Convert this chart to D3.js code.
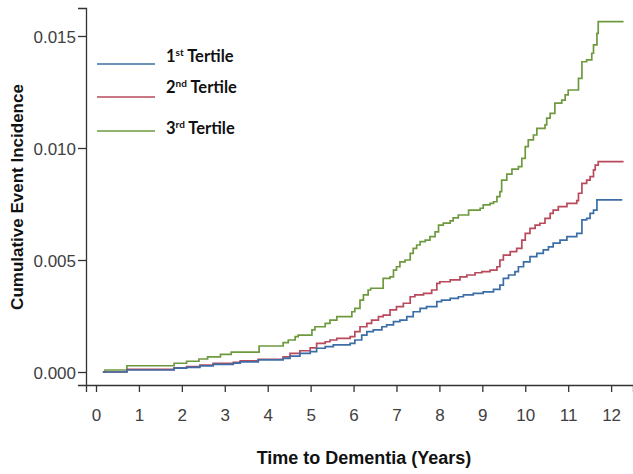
<!DOCTYPE html>
<html>
<head>
<meta charset="utf-8">
<script src="https://cdn.jsdelivr.net/npm/d3@7"></script>
<style>
  html, body { margin: 0; padding: 0; background: #fff; }
  svg { display: block; }
</style>
</head>
<body>
<svg id="chart" width="633" height="474"></svg>
<script>
// ---- data ----
const xTicks = [0,1,2,3,4,5,6,7,8,9,10,11,12];
const yTicks = [0, 0.005, 0.010, 0.015];
const seriesNames = ["1st Tertile", "2nd Tertile", "3rd Tertile"];

const tertile1Times = [0.16,0.72,1.82,2.11,2.42,2.73,3.2,3.36,3.78,4.36,4.52,4.75,4.99,5.14,5.34,5.53,5.92,6.03,6.19,6.31,6.46,6.66,6.77,6.93,7.08,7.24,7.39,7.55,7.7,7.94,8.05,8.25,8.44,8.56,8.79,9.02,9.26,9.41,9.49,9.61,9.76,9.84,9.96,10.11,10.27,10.42,10.54,10.65,10.81,10.97,11.2,11.32,11.43,11.51,11.59,11.67,12.26];
const tertile1Values = [0,0.00009,0.00017,0.00021,0.00027,0.00034,0.0004,0.00045,0.00054,0.00061,0.00071,0.00083,0.00091,0.00106,0.00113,0.00121,0.00128,0.00143,0.00165,0.0018,0.00188,0.00202,0.0021,0.00225,0.00232,0.00247,0.00269,0.00284,0.00292,0.00314,0.00321,0.00329,0.00336,0.00344,0.00351,0.00358,0.00369,0.00388,0.00418,0.00433,0.00448,0.0047,0.00492,0.00515,0.0053,0.00545,0.00559,0.00575,0.00589,0.00604,0.00619,0.00679,0.00686,0.00708,0.00723,0.00768,0.00768];

const tertile2Times = [0.16,0.72,1.82,2.11,2.42,2.73,3.2,3.36,3.78,4.36,4.52,4.75,4.99,5.14,5.34,5.45,5.61,5.92,6.03,6.15,6.31,6.42,6.58,6.69,6.85,7.0,7.16,7.32,7.43,7.63,7.82,7.94,8.01,8.25,8.48,8.64,8.83,8.99,9.18,9.34,9.41,9.49,9.65,9.8,9.92,10.0,10.11,10.23,10.34,10.46,10.58,10.65,10.77,10.97,11.2,11.24,11.32,11.43,11.51,11.59,11.63,11.7,12.29];
const tertile2Values = [0,0.00012,0.00019,0.00024,0.00031,0.00039,0.00043,0.0005,0.00057,0.00068,0.00083,0.00095,0.00108,0.00128,0.00135,0.00143,0.0015,0.00158,0.0018,0.00202,0.00217,0.00232,0.00247,0.00254,0.00277,0.00292,0.00307,0.00336,0.00344,0.00351,0.00366,0.00396,0.00403,0.00411,0.00425,0.00433,0.00443,0.00448,0.00455,0.0047,0.005,0.00522,0.00537,0.00552,0.00589,0.00619,0.00641,0.00656,0.00664,0.00686,0.00708,0.00723,0.00738,0.00753,0.00765,0.00798,0.00842,0.00857,0.00872,0.00902,0.00924,0.00939,0.00939];

const tertile3Times = [0.16,0.21,0.72,1.82,2.11,2.4,2.6,2.9,3.15,3.8,4.36,4.48,4.64,4.71,5.03,5.1,5.34,5.45,5.61,5.96,6.03,6.15,6.23,6.34,6.4,6.69,6.85,6.93,7.0,7.08,7.2,7.32,7.39,7.47,7.55,7.67,7.78,7.9,7.98,8.09,8.25,8.32,8.44,8.68,8.95,9.02,9.18,9.26,9.34,9.41,9.45,9.57,9.69,9.84,9.92,10.0,10.07,10.19,10.27,10.46,10.5,10.58,10.69,10.85,10.93,11.0,11.24,11.32,11.43,11.55,11.59,11.67,11.7,12.29];
const tertile3Values = [0,0.00009,0.00028,0.00039,0.00048,0.00058,0.00068,0.00079,0.00089,0.00116,0.00131,0.00143,0.00158,0.00165,0.00188,0.00202,0.00217,0.00232,0.00247,0.00269,0.00284,0.00321,0.00344,0.00366,0.00374,0.00418,0.00425,0.00455,0.0047,0.00492,0.005,0.0053,0.00552,0.00567,0.00582,0.00589,0.00604,0.00626,0.00656,0.00665,0.00675,0.00688,0.00701,0.00723,0.00731,0.00746,0.00753,0.0076,0.00783,0.00805,0.00857,0.00883,0.00906,0.00917,0.00954,0.01006,0.01036,0.01058,0.01088,0.01103,0.01133,0.01155,0.012,0.01214,0.01237,0.01259,0.01311,0.01385,0.01393,0.01423,0.0146,0.01512,0.01564,0.01564];

const colors = ["#3b6ea6", "#b84a5c", "#6e9a3f"];

// ---- chart ----
const svg = d3.select("#chart");
const x = d3.scaleLinear().domain([-0.233, 12.51]).range([86, 633]);
const y = d3.scaleLinear().domain([-0.00058, 0.01625]).range([385, 8]);

const seriesData = [
  d3.zip(tertile1Times, tertile1Values),
  d3.zip(tertile2Times, tertile2Values),
  d3.zip(tertile3Times, tertile3Values)
];

const line = d3.line().x(d => x(d[0])).y(d => y(d[1])).curve(d3.curveStepAfter);

[2,1,0].forEach(i => {
  svg.append("path")
    .datum(seriesData[i])
    .attr("fill", "none")
    .attr("stroke", colors[i])
    .attr("stroke-width", 1.7)
    .attr("d", line);
});

// axes
const xAxis = svg.append("g")
  .attr("transform", "translate(0,385)")
  .call(d3.axisBottom(x).tickValues(xTicks).tickFormat(d3.format("d")).tickSizeOuter(0).tickSize(7).tickPadding(17));
const yAxis = svg.append("g")
  .attr("transform", "translate(86,0)")
  .call(d3.axisLeft(y).tickValues(yTicks).tickFormat(d3.format(".3f")).tickSizeOuter(0).tickSize(8).tickPadding(2));

[xAxis, yAxis].forEach(g => {
  g.selectAll("path, line").attr("stroke", "#333").attr("stroke-width", 1.3);
  g.selectAll("text")
    .attr("font-family", "'Liberation Sans', Arial, sans-serif")
    .attr("font-size", 17)
    .attr("fill", "#404040");
});
yAxis.selectAll("text").attr("dy", "0.36em");

// axis titles
svg.append("text")
  .attr("x", 364).attr("y", 464)
  .attr("text-anchor", "middle")
  .attr("font-family", "'Liberation Sans', Arial, sans-serif")
  .attr("font-weight", "bold")
  .attr("font-size", 18)
  .attr("fill", "#111")
  .text("Time to Dementia (Years)");

svg.append("text")
  .attr("transform", "translate(23,197) rotate(-90)")
  .attr("text-anchor", "middle")
  .attr("font-family", "'Liberation Sans', Arial, sans-serif")
  .attr("font-weight", "bold")
  .attr("font-size", 17)
  .attr("fill", "#111")
  .text("Cumulative Event Incidence");

// legend
const legendLineY = [64, 97, 131];
const legendTextY = [62, 93, 134];
const sups = ["st", "nd", "rd"];
seriesNames.forEach((name, i) => {
  svg.append("line")
    .attr("x1", 97).attr("x2", 155)
    .attr("y1", legendLineY[i]).attr("y2", legendLineY[i])
    .attr("stroke", colors[i]).attr("stroke-width", 1.7);
  const t = svg.append("text")
    .attr("x", 166).attr("y", legendTextY[i])
    .attr("font-family", "Lato, 'Open Sans', sans-serif")
    .attr("font-weight", "bold")
    .attr("font-size", 16.5)
    .attr("fill", "#111");
  t.append("tspan").text(name.charAt(0));
  t.append("tspan").attr("font-size", 10).attr("dy", -6).text(sups[i]);
  t.append("tspan").attr("dy", 6).text(" " + name.slice(name.indexOf(" ") + 1));
});
</script>
</body>
</html>
